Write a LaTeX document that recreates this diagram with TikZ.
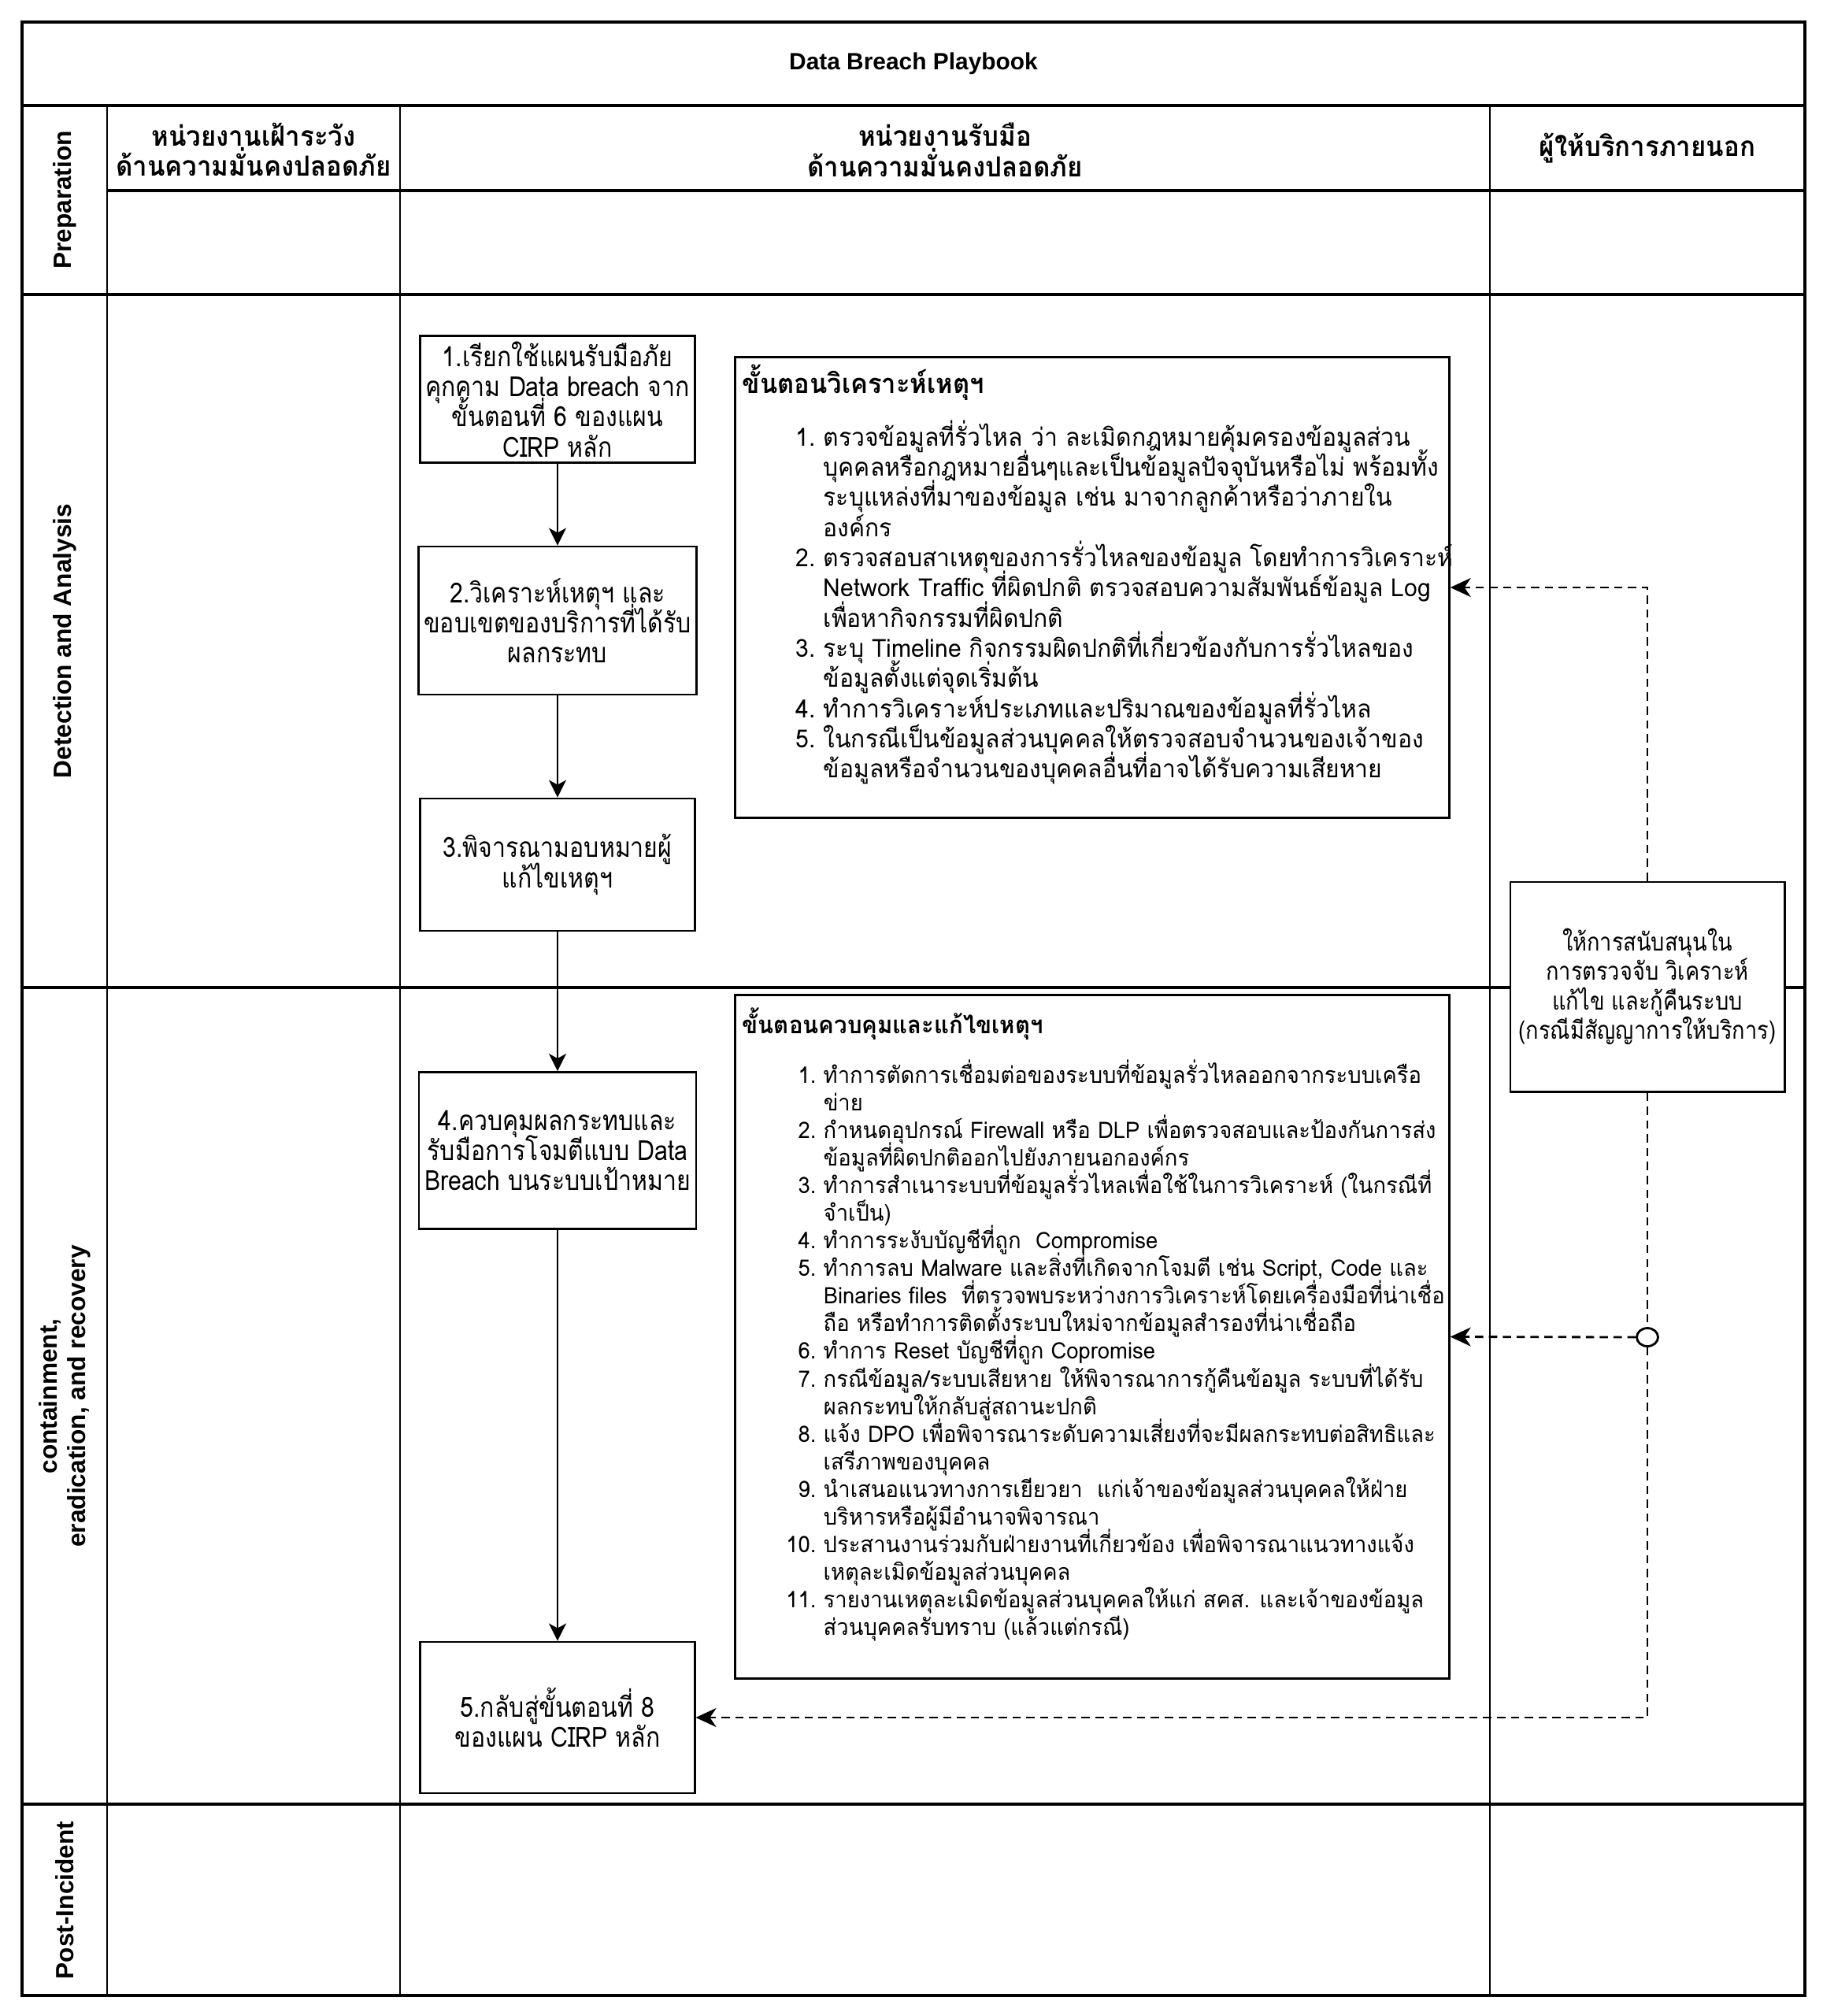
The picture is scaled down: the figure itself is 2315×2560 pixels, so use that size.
\documentclass[tikz,border=0pt]{standalone}
\usepackage{fontspec}
\setmainfont{Liberation Sans}
\newfontfamily\thai[Script=Thai]{Loma}
\newfontfamily\thainarrow[Script=Thai, FakeStretch=0.86]{Loma}
\newfontfamily\thaicond[Script=Thai, FakeStretch=0.95]{Loma}
\newfontfamily\thaihead[Script=Thai, FakeStretch=0.94]{Loma}
\usepackage{tikz}
\usetikzlibrary{arrows.meta, positioning, calc, shapes.geometric}

\newcommand{\itemno}[1]{\makebox[0.6cm][r]{#1.~}}
\newcommand{\itemgap}{\hspace*{0.6cm}}
\newcommand{\tightlines}{\lineskiplimit=-100pt\relax}

\begin{document}
\begin{tikzpicture}[
    x=0.01cm, y=-0.01cm,
    frame/.style={line width=1pt},
    grid/.style={line width=0.6pt},
    lane/.style={rotate=90, align=center, font=\bfseries\fontsize{9}{10.2}\selectfont},
    head/.style={align=center, font=\thaihead\bfseries\fontsize{10}{11}\selectfont\tightlines},
    box/.style={rectangle, draw, fill=white, line width=0.8pt, minimum width=3.48cm, align=center, inner sep=2pt,
        font=\thainarrow\fontsize{10}{10.9}\selectfont\tightlines},
    listbox/.style={rectangle, draw, fill=white, line width=0.8pt, minimum width=9.06cm},
    listtitle/.style={anchor=west, inner sep=0pt},
    listtext/.style={anchor=north west, inner sep=0pt, align=left},
    arr/.style={-{Stealth[length=2.2mm, width=2.2mm, inset=0.6mm]}, line width=0.8pt},
    dashline/.style={dash pattern=on 3pt off 2pt, line width=0.8pt},
    dasharr/.style={dashline, -{Stealth[length=2.6mm, width=2.4mm, inset=0.8mm]}}
]
\useasboundingbox (0,0) rectangle (2315,2560);

\draw[frame] (28,28) rectangle (2292,2534);
\draw[frame] (28,134) -- (2292,134);
\draw[frame] (136,242) -- (2292,242);
\draw[frame] (28,374) -- (2292,374);
\draw[frame] (28,1254) -- (2292,1254);
\draw[frame] (28,2291) -- (2292,2291);
\draw[grid] (136,134) -- (136,2534);
\draw[grid] (508,134) -- (508,2534);
\draw[grid] (1892,134) -- (1892,2534);

\node[font=\bfseries\fontsize{8.5}{10}\selectfont] (title) at (1160,81) {Data Breach Playbook};

\node[lane] (prep) at (82,254) {Preparation};
\node[lane] (detect) at (82,814) {Detection and Analysis};
\node[lane] (contain) at (82,1773) {containment,\\eradication, and recovery};
\node[lane] (post) at (82,2413) {Post-Incident};

\node[head] (watch) at (322,190) {หน่วยงานเฝ้าระวัง\\ด้านความมั่นคงปลอดภัย};
\node[head] (resp) at (1200,190) {หน่วยงานรับมือ\\ด้านความมั่นคงปลอดภัย};
\node[head] (vendor) at (2092,188) {ผู้ให้บริการภายนอก};

\node[box, minimum height=1.58cm] (b1) at (708,507) {1.เรียกใช้แผนรับมือภัย\\คุกคาม Data breach จาก\\ขั้นตอนที่ 6 ของแผน\\CIRP หลัก};
\node[box, minimum height=1.88cm] (b2) at (708,788) {2.วิเคราะห์เหตุฯ และ\\ขอบเขตของบริการที่ได้รับ\\ผลกระทบ};
\node[box, minimum height=1.68cm] (b3) at (708,1098) {3.พิจารณามอบหมายผู้\\แก้ไขเหตุฯ};
\node[box, minimum height=1.99cm] (b4) at (708,1461) {4.ควบคุมผลกระทบและ\\รับมือการโจมตีแบบ Data\\Breach บนระบบเป้าหมาย};
\node[box, minimum height=1.92cm] (b5) at (708,2181) {5.กลับสู่ขั้นตอนที่ 8\\ของแผน CIRP หลัก};

\node[box, minimum height=2.66cm, font=\thainarrow\fontsize{9}{10.6}\selectfont\tightlines] (sup) at (2092,1253) {ให้การสนับสนุนใน\\การตรวจจับ วิเคราะห์\\แก้ไข และกู้คืนระบบ\\(กรณีมีสัญญาการให้บริการ)};

\node[listbox, minimum height=5.84cm] (ana) at (1387,746) {};
\node[listtitle, font=\thaicond\bfseries\fontsize{9.8}{11}\selectfont] (anatitle) at (942,486) {ขั้นตอนวิเคราะห์เหตุฯ};
\node[listtext, font=\thaicond\fontsize{9}{10.9}\selectfont\tightlines] (analist) at (985,533) {%
\itemno{1}ตรวจข้อมูลที่รั่วไหล ว่า ละเมิดกฎหมายคุ้มครองข้อมูลส่วน\\
\itemgap บุคคลหรือกฎหมายอื่นๆและเป็นข้อมูลปัจจุบันหรือไม่ พร้อมทั้ง\\
\itemgap ระบุแหล่งที่มาของข้อมูล เช่น มาจากลูกค้าหรือว่าภายใน\\
\itemgap องค์กร\\
\itemno{2}ตรวจสอบสาเหตุของการรั่วไหลของข้อมูล โดยทำการวิเคราะห์\\
\itemgap Network Traffic ที่ผิดปกติ ตรวจสอบความสัมพันธ์ข้อมูล Log\\
\itemgap เพื่อหากิจกรรมที่ผิดปกติ\\
\itemno{3}ระบุ Timeline กิจกรรมผิดปกติที่เกี่ยวข้องกับการรั่วไหลของ\\
\itemgap ข้อมูลตั้งแต่จุดเริ่มต้น\\
\itemno{4}ทำการวิเคราะห์ประเภทและปริมาณของข้อมูลที่รั่วไหล\\
\itemno{5}ในกรณีเป็นข้อมูลส่วนบุคคลให้ตรวจสอบจำนวนของเจ้าของ\\
\itemgap ข้อมูลหรือจำนวนของบุคคลอื่นที่อาจได้รับความเสียหาย};

\node[listbox, minimum height=8.67cm] (ctl) at (1387,1697.5) {};
\node[listtitle, font=\thaicond\bfseries\fontsize{8.8}{10}\selectfont] (ctltitle) at (942,1300) {ขั้นตอนควบคุมและแก้ไขเหตุฯ};
\node[listtext, font=\thaicond\fontsize{8.2}{9.97}\selectfont\tightlines] (ctllist) at (985,1345) {%
\itemno{1}ทำการตัดการเชื่อมต่อของระบบที่ข้อมูลรั่วไหลออกจากระบบเครือ\\
\itemgap ข่าย\\
\itemno{2}กำหนดอุปกรณ์ Firewall หรือ DLP เพื่อตรวจสอบและป้องกันการส่ง\\
\itemgap ข้อมูลที่ผิดปกติออกไปยังภายนอกองค์กร\\
\itemno{3}ทำการสำเนาระบบที่ข้อมูลรั่วไหลเพื่อใช้ในการวิเคราะห์ (ในกรณีที่\\
\itemgap จำเป็น)\\
\itemno{4}ทำการระงับบัญชีที่ถูก~ Compromise\\
\itemno{5}ทำการลบ Malware และสิ่งที่เกิดจากโจมตี เช่น Script, Code และ\\
\itemgap Binaries files~ ที่ตรวจพบระหว่างการวิเคราะห์โดยเครื่องมือที่น่าเชื่อ\\
\itemgap ถือ หรือทำการติดตั้งระบบใหม่จากข้อมูลสำรองที่น่าเชื่อถือ\\
\itemno{6}ทำการ Reset บัญชีที่ถูก Copromise\\
\itemno{7}กรณีข้อมูล/ระบบเสียหาย ให้พิจารณาการกู้คืนข้อมูล ระบบที่ได้รับ\\
\itemgap ผลกระทบให้กลับสู่สถานะปกติ\\
\itemno{8}แจ้ง DPO เพื่อพิจารณาระดับความเสี่ยงที่จะมีผลกระทบต่อสิทธิและ\\
\itemgap เสรีภาพของบุคคล\\
\itemno{9}นำเสนอแนวทางการเยียวยา~ แก่เจ้าของข้อมูลส่วนบุคคลให้ฝ่าย\\
\itemgap บริหารหรือผู้มีอำนาจพิจารณา\\
\itemno{10}ประสานงานร่วมกับฝ่ายงานที่เกี่ยวข้อง เพื่อพิจารณาแนวทางแจ้ง\\
\itemgap เหตุละเมิดข้อมูลส่วนบุคคล\\
\itemno{11}รายงานเหตุละเมิดข้อมูลส่วนบุคคลให้แก่ สคส. และเจ้าของข้อมูล\\
\itemgap ส่วนบุคคลรับทราบ (แล้วแต่กรณี)};

\node[draw, ellipse, line width=0.8pt, fill=white, minimum width=0.27cm, minimum height=0.23cm, inner sep=0pt] (hub) at (2092,1698) {};

\draw[arr] (b1) -- (b2);
\draw[arr] (b2) -- (b3);
\draw[arr] (b3) -- (b4);
\draw[arr] (b4) -- (b5);

\draw[dasharr] (sup.north) |- (ana.east);
\draw[dashline] (sup.south) -- (hub.north);
\draw[dasharr] (hub.west) -- (ctl.east);
\draw[dasharr] (hub.south) |- (b5.east);
\end{tikzpicture}
\end{document}
